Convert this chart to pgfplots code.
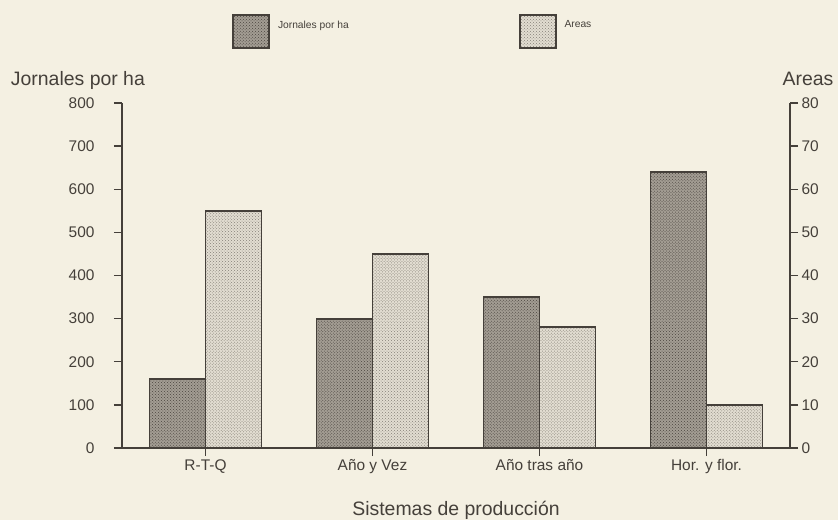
\documentclass[border=0pt]{standalone}
\usepackage{pgfplots}
\pgfplotsset{compat=1.18}
\usepackage{fontspec}
\setmainfont{Liberation Sans}
\usetikzlibrary{patterns}
\definecolor{paper}{HTML}{F4F0E2}
\definecolor{ink}{HTML}{45403A}
\definecolor{darkfill}{HTML}{A39D93}
\definecolor{darkdots}{HTML}{4A453F}
\definecolor{lightfill}{HTML}{E2DDD1}
\definecolor{lightdots}{HTML}{858077}
\pgfplotsset{
  boxleg/.style={legend image code/.code={\draw[##1] (0bp,-23bp) rectangle (36bp,10bp);}},
  darkbar/.style={draw=ink, line width=1.8bp, fill=darkfill, postaction={pattern=crosshatch dots, pattern color=darkdots}},
  lightbar/.style={draw=ink, line width=1.8bp, fill=lightfill, postaction={pattern=crosshatch dots, pattern color=lightdots}},
  common/.style={
    scale only axis, width=668bp, height=345bp,
    xmin=-0.5, xmax=3.5, ymin=0,
    tick align=outside, major tick length=8bp,
    axis line style={ink, line width=1.4bp},
    tick style={ink, line width=1.4bp},
    /pgf/number format/assume math mode=true,
    tick label style={font=\fontsize{15.5}{17}\selectfont, text=ink},
  },
}
\begin{document}
\begin{tikzpicture}
\fill[paper] (-122bp,-72bp) rectangle (716bp,448bp);
\begin{axis}[common,
  ymax=800,
  axis y line*=left, axis x line*=bottom,
  ytick={0,100,...,800},
  xtick={0,1,2,3},
  xticklabels={R-T-Q, Año y Vez, Año tras año, Hor. y flor.},
  y tick label style={xshift=-16bp},
  every axis y label/.style={at={(axis description cs:-0.066,1)}, anchor=base, yshift=18bp, font=\fontsize{19.5}{21}\selectfont, text=ink},
  ylabel={Jornales por ha},
  every axis x label/.style={at={(axis description cs:0.5,0)}, anchor=base, yshift=-67bp, font=\fontsize{19.5}{21}\selectfont, text=ink},
  xlabel={Sistemas de producción},
  legend columns=2,
  legend style={at={(axis description cs:0.1647,1.258)}, anchor=north west, draw=none, fill=none, inner sep=0pt,
    font=\fontsize{10.3}{12}\selectfont, text=ink, nodes={inner sep=1bp},
    /tikz/every even column/.append style={column sep=169bp},
    /tikz/every odd column/.append style={column sep=7bp}},
]
\addplot[ybar, bar width=0.335, bar shift=-0.1675, darkbar, forget plot]
  coordinates {(0,160) (1,300) (2,350) (3,640)};
\addlegendimage{boxleg, darkbar}
\addlegendentry{Jornales por ha}
\addlegendimage{boxleg, lightbar}
\addlegendentry{Areas}
\end{axis}
\begin{axis}[common,
  ymax=80,
  axis y line*=right, axis x line=none,
  ytick={0,10,...,80},
  every axis y label/.style={at={(axis description cs:1.027,1)}, anchor=base, yshift=18bp, font=\fontsize{19.5}{21}\selectfont, text=ink},
  ylabel={Areas},
]
\addplot[ybar, bar width=0.335, bar shift=0.1675, lightbar]
  coordinates {(0,55) (1,45) (2,28) (3,10)};
\end{axis}
\pgfresetboundingbox
\path[use as bounding box] (-122bp,-72bp) rectangle (716bp,448bp);
\end{tikzpicture}
\end{document}
